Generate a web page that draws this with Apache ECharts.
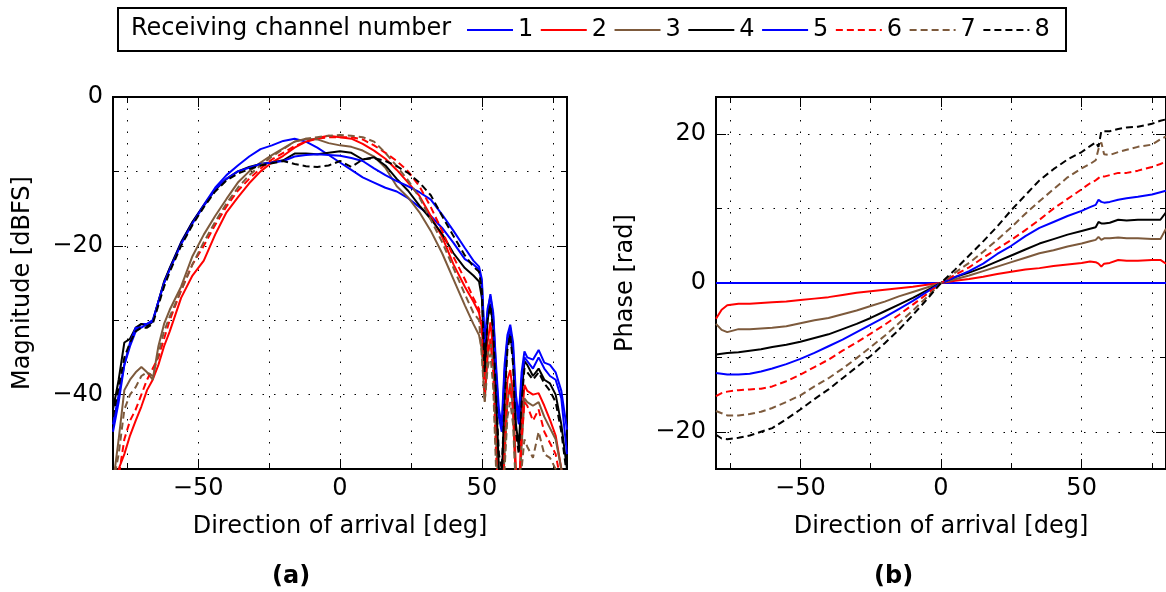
<!DOCTYPE html>
<html lang="en">
<head>
<meta charset="UTF-8">
<title>Receiving channels</title>
<script src="https://cdn.jsdelivr.net/npm/echarts@6/dist/echarts.min.js"></script>
<style>
html, body { margin: 0; padding: 0; background: #fff; }
#main { width: 1166px; height: 592px; }
</style>
</head>
<body>
<div id="main"></div>
<script type="text/javascript">
// direction of arrival (deg) for the magnitude curves
var DOA_MAG = [-80, -78, -76, -74, -72, -70, -68, -66, -64, -62, -60,
  -56, -52, -48, -44, -40, -36, -32, -28, -24, -20, -16, -12, -8, -4, 0,
  4, 8, 12, 16, 20, 24, 28, 32, 36, 40, 44,
  47, 49,
  50, 51, 52, 53, 54, 55, 56, 57, 58, 59, 60, 61, 62, 63, 64, 65, 66,
  68, 70, 72, 74, 76, 78, 80];

// magnitude [dBFS], one list per receiving channel
var MAG_1 = [-44, -40, -36, -33.5, -31.5, -30.5, -30.5, -30, -27.5, -25, -23,
  -19.5, -16.8, -14.5, -12.2, -10.5, -9.2, -8, -7, -6.5, -5.9, -5.6, -6, -6.8, -7.8, -8.8,
  -9.8, -10.8, -11.5, -12.2, -12.7, -13.6, -14.8, -16, -17.6, -19.6, -21.8,
  -22.5, -23.2,
  -25, -34, -29, -26.5, -29, -36, -42, -44, -36, -32, -30.6, -33, -40, -43, -37, -34.2, -35,
  -35.3, -34, -35.7, -36, -37, -39.5, -44.7];
var MAG_2 = [-55, -50, -48, -45.5, -43.5, -41.6, -39.4, -38, -36, -33.5, -31.5,
  -27, -24, -22, -18.5, -15.5, -13.5, -11.6, -10, -8.8, -7.9, -6.8, -6, -5.5, -5.2, -5.4,
  -5.6, -6.3, -7.2, -8.3, -9.8, -11.5, -13.3, -16, -18.8, -22.5, -25.5,
  -27.5, -29,
  -31, -38, -33, -30.3, -34, -44, -52, -55, -46, -38, -36.7, -40, -50, -54, -44, -38.7, -39.5,
  -40, -39.8, -41.5, -43.4, -45.5, -50, -55];
var MAG_3 = [-52, -46, -39.4, -38, -37, -36.3, -37, -38, -33.5, -30.5, -28.6,
  -25.5, -21.4, -18.5, -16, -13.7, -11.5, -10, -8.8, -7.8, -6.9, -6, -5.6, -5.7, -6.2, -6.5,
  -6.7, -7.2, -8, -9.5, -12, -13.5, -15.5, -18, -21, -24.5, -28,
  -30.5, -32,
  -34, -41, -35, -32.6, -36, -46, -54, -56, -48, -41, -38.5, -42, -52, -55, -47, -40.5, -41,
  -41.5, -41, -43, -44.5, -46, -50, -54];
var MAG_4 = [-42, -38, -33, -32.5, -31, -30.5, -30.8, -30.2, -27.5, -24.8, -23,
  -19.6, -16.8, -14.6, -12.5, -11, -10, -9.4, -9, -8.8, -8.5, -7.6, -7.6, -7.7, -7.5, -7.3,
  -7.5, -8.4, -8.1, -9.2, -11, -12.6, -14.6, -16.4, -18.4, -21, -23,
  -24, -24.8,
  -27, -36, -30, -27.8, -31, -40, -50, -52, -40, -33, -31.8, -35, -44, -47, -40, -35.5, -36,
  -37.5, -36.5, -38, -38.5, -40, -44, -50];
var MAG_5 = [-45, -41, -36, -33, -31, -31, -30.5, -30.2, -27.5, -25, -23.2,
  -19.8, -17, -14.6, -12.4, -11, -10, -9.5, -9, -8.8, -8.6, -8, -7.8, -7.7, -7.8, -7.9,
  -8.2, -8.6, -9.6, -10.5, -11.3, -12, -12.8, -13.8, -15.8, -18, -20.3,
  -22, -22.8,
  -24.5, -33, -28.5, -26.8, -29.5, -37, -43, -45, -37, -32.5, -31, -34, -41, -44, -38, -35, -35.5,
  -36.5, -35, -36.5, -37.5, -38, -40.5, -48];
var MAG_6 = [-55, -51, -46, -43.5, -42, -40, -38, -36.5, -35, -32.5, -30,
  -26, -22.5, -20, -17.2, -14.7, -12.6, -11, -9.6, -8.4, -7.5, -6.6, -6, -5.6, -5.4, -5.4,
  -5.4, -5.7, -6.5, -7.5, -8.6, -10, -12, -14.8, -18, -21.5, -24.5,
  -27, -28.5,
  -32, -40, -34.5, -32.5, -37, -48, -55, -56, -48, -41, -39, -42, -52, -55, -46, -41, -41.5,
  -43.5, -42, -45, -46.5, -48, -52, -56];
var MAG_7 = [-52, -48, -42, -40, -39, -37.5, -37, -37.5, -34.5, -31.5, -29.5,
  -26, -22.5, -19.5, -16.8, -14.3, -12.2, -10.5, -9.2, -8, -7, -6, -5.6, -5.4, -5.2, -5.1,
  -5.2, -5.4, -6, -7.5, -9.3, -11.2, -13.5, -16.5, -19.5, -23, -26.5,
  -29, -30,
  -35, -41, -36.5, -34.5, -39, -50, -56, -57, -50, -43, -41, -44, -53, -56, -50, -46, -47,
  -48.5, -45, -48, -48.5, -50, -53, -57];
var MAG_8 = [-43, -39, -35, -33, -31.5, -31, -31, -30.5, -28, -25.5, -23.5,
  -20, -17.2, -14.8, -12.7, -11.2, -10.3, -9.7, -9.2, -8.9, -8.6, -9, -9.3, -9.4, -9.2, -8.6,
  -9.4, -8.4, -8.2, -8.6, -9.3, -10.2, -11.5, -13.2, -16, -18.7, -21.3,
  -22.8, -23.5,
  -26, -37, -30, -28, -31.5, -40, -48, -50, -41, -34, -32, -36, -45, -48, -41, -36.5, -37,
  -38, -37, -38.5, -39.5, -41, -45, -51];

// direction of arrival (deg) for the phase curves
var DOA_PH = [-80, -78, -76, -72, -68, -64, -60, -55, -50, -45, -40, -35, -30, -25, -20, -15, -10, -5, 0,
  5, 10, 15, 20, 25, 30, 35, 40, 45, 50, 53, 55, 56, 57, 58, 60, 63, 66, 70, 75, 78, 80];

// phase [rad], one list per receiving channel
var PH_1 = [0, 0, 0, 0, 0, 0, 0, 0, 0, 0, 0, 0, 0, 0, 0, 0, 0, 0, 0,
  0, 0, 0, 0, 0, 0, 0, 0, 0, 0, 0, 0, 0, 0, 0, 0, 0, 0, 0, 0, 0, 0];
var PH_2 = [-4.8, -3.6, -3.0, -2.8, -2.8, -2.7, -2.6, -2.5, -2.3, -2.1, -1.9, -1.6, -1.3, -1.1, -0.9, -0.7, -0.5, -0.25, 0,
  0.3, 0.55, 0.85, 1.2, 1.5, 1.8, 2.0, 2.3, 2.5, 2.7, 2.9, 2.8, 2.6, 2.2, 2.6, 2.7, 3.1, 3.0, 3.0, 3.1, 3.1, 2.6];
var PH_3 = [-5.5, -6.3, -6.6, -6.2, -6.2, -6.1, -6.0, -5.8, -5.4, -5.0, -4.7, -4.2, -3.7, -3.1, -2.5, -1.8, -1.2, -0.6, 0,
  0.5, 1.0, 1.6, 2.2, 2.8, 3.4, 4.0, 4.4, 4.9, 5.3, 5.6, 5.8, 6.2, 5.8, 6.0, 6.0, 6.1, 6.0, 6.0, 5.9, 5.9, 7.3];
var PH_4 = [-9.6, -9.5, -9.4, -9.3, -9.1, -8.9, -8.6, -8.3, -7.9, -7.4, -6.9, -6.2, -5.5, -4.7, -3.8, -2.9, -2.0, -1.0, 0,
  0.8, 1.4, 2.1, 2.9, 3.7, 4.5, 5.3, 5.9, 6.5, 7.0, 7.3, 7.5, 8.2, 8.0, 8.0, 8.1, 8.5, 8.4, 8.5, 8.5, 8.5, 9.5];
var PH_5 = [-12.1, -12.2, -12.3, -12.3, -12.2, -11.9, -11.5, -10.9, -10.2, -9.4, -8.5, -7.6, -6.6, -5.6, -4.6, -3.5, -2.4, -1.2, 0,
  0.8, 1.6, 2.6, 3.9, 5.0, 6.3, 7.4, 8.2, 9.0, 9.7, 10.2, 10.5, 11.2, 10.9, 10.8, 10.9, 11.2, 11.4, 11.6, 11.9, 12.2, 12.4];
var PH_6 = [-15.2, -14.8, -14.6, -14.4, -14.3, -14.2, -13.9, -13.2, -12.3, -11.3, -10.3, -9.1, -8.0, -6.8, -5.6, -4.3, -2.9, -1.5, 0,
  1.1, 2.1, 3.4, 4.6, 5.8, 7.1, 8.5, 10.0, 11.3, 12.6, 13.4, 13.8, 14.1, 14.4, 14.3, 14.5, 14.8, 14.8, 15.1, 15.6, 16.0, 16.3];
var PH_7 = [-17.2, -17.5, -17.8, -17.8, -17.6, -17.3, -16.8, -16.0, -15.1, -13.9, -12.8, -11.5, -10.1, -8.6, -7.1, -5.4, -3.7, -1.9, 0,
  1.4, 2.7, 4.2, 5.8, 7.5, 9.3, 11.0, 12.6, 14.2, 15.4, 16.0, 16.5, 18.0, 18.9, 17.3, 17.2, 17.6, 17.9, 18.3, 18.6, 19.3, 19.7];
var PH_8 = [-20.4, -20.9, -21.0, -20.8, -20.5, -20.0, -19.5, -18.3, -17.0, -15.6, -14.3, -12.8, -11.3, -9.8, -8.1, -6.3, -4.3, -2.2, 0,
  1.8, 3.7, 5.6, 7.6, 9.8, 11.8, 13.8, 15.3, 16.6, 17.6, 18.4, 18.9, 18.3, 20.4, 20.4, 20.4, 20.7, 20.9, 21.0, 21.4, 21.8, 22.0];

var CHANNELS = ['1', '2', '3', '4', '5', '6', '7', '8'];
var MAG = [MAG_1, MAG_2, MAG_3, MAG_4, MAG_5, MAG_6, MAG_7, MAG_8];
var PH = [PH_1, PH_2, PH_3, PH_4, PH_5, PH_6, PH_7, PH_8];

// styles
var COLORS = ['#0000ff', '#ff0000', '#7d5a3c', '#000000', '#0000ff', '#ff0000', '#7d5a3c', '#000000'];
var DASHED = [false, false, false, false, false, true, true, true];
var FONT = 'DejaVu Sans';
var FS = 24;

var myChart = echarts.init(document.getElementById('main'));

function minus(v) {
    return String(v).replace('-', '\u2212');
}

// one axis: ticks pointing inward, optional labels and dotted grid lines
function axis(dim, grid, pos, min, max, ticks, len, labels, split) {
    return {
        type: 'value',
        gridIndex: grid,
        position: pos,
        min: min,
        max: max,
        axisLine: {show: false, onZero: false},
        axisTick: {show: true, inside: true, length: len, customValues: ticks,
            lineStyle: {color: '#000', width: 1}},
        axisLabel: {show: labels, customValues: ticks, formatter: minus,
            color: '#000', fontSize: FS, fontFamily: FONT, margin: dim === 'x' ? 8 : 10},
        splitLine: {show: split, lineStyle: {color: '#000', width: 1, type: [1.5, 10]}}
    };
}

var X_MAJOR = [-50, 0, 50], X_MINOR = [-75, -25, 25, 75];
var xAxes = [], yAxes = [];
[0, 1].forEach(function (gi) {
    var ymin = gi === 0 ? -50 : -25, ymax = gi === 0 ? 0 : 25;
    var yMajor = gi === 0 ? [-40, -20, 0] : [-20, 0, 20];
    var yMinor = gi === 0 ? [-30, -10] : [-10, 10];
    xAxes.push(axis('x', gi, 'bottom', -80, 80, X_MAJOR, 10, true, true));
    xAxes.push(axis('x', gi, 'bottom', -80, 80, X_MINOR, 6, false, true));
    xAxes.push(axis('x', gi, 'top', -80, 80, X_MAJOR, 10, false, false));
    xAxes.push(axis('x', gi, 'top', -80, 80, X_MINOR, 6, false, false));
    yAxes.push(axis('y', gi, 'left', ymin, ymax, yMajor, 10, true, true));
    yAxes.push(axis('y', gi, 'left', ymin, ymax, yMinor, 6, false, true));
    yAxes.push(axis('y', gi, 'right', ymin, ymax, yMajor, 10, false, false));
    yAxes.push(axis('y', gi, 'right', ymin, ymax, yMinor, 6, false, false));
});

var nameStyle = {color: '#000', fontSize: FS, fontFamily: FONT};
xAxes[0].name = 'Direction of arrival [deg]';
xAxes[4].name = 'Direction of arrival [deg]';
yAxes[0].name = 'Magnitude [dBFS]';
yAxes[4].name = 'Phase [rad]';
[xAxes[0], xAxes[4]].forEach(function (a) {
    a.nameLocation = 'middle'; a.nameGap = 46; a.nameTextStyle = nameStyle;
});
[yAxes[0], yAxes[4]].forEach(function (a) {
    a.nameLocation = 'middle'; a.nameGap = 78; a.nameTextStyle = nameStyle;
});

function pairs(xs, ys) {
    var out = [];
    for (var i = 0; i < xs.length; i++) out.push([xs[i], ys[i]]);
    return out;
}

var series = [];
CHANNELS.forEach(function (name, i) {
    var style = {color: COLORS[i], width: 2, type: DASHED[i] ? [7, 4] : 'solid'};
    series.push({
        name: name, type: 'line', xAxisIndex: 0, yAxisIndex: 0,
        data: pairs(DOA_MAG, MAG[i]),
        symbol: 'none', showSymbol: false, clip: true,
        lineStyle: style, itemStyle: {color: COLORS[i]}
    });
    series.push({
        name: name, type: 'line', xAxisIndex: 4, yAxisIndex: 4,
        data: pairs(DOA_PH, PH[i]),
        symbol: 'none', showSymbol: false, clip: true,
        lineStyle: style, itemStyle: {color: COLORS[i]}
    });
});

var option = {
    animation: false,
    backgroundColor: '#fff',
    grid: [
        {left: 113, top: 97, width: 454, height: 372, show: true,
            borderColor: '#000', borderWidth: 2, backgroundColor: 'transparent'},
        {left: 716, top: 97, width: 452, height: 372, show: true,
            borderColor: '#000', borderWidth: 2, backgroundColor: 'transparent'}
    ],
    legend: {
        data: CHANNELS,
        left: 466, top: 18, padding: 0,
        itemWidth: 46, itemHeight: 14, itemGap: 6.5,
        itemStyle: {opacity: 0},
        textStyle: {color: '#000', fontSize: FS, fontFamily: FONT}
    },
    graphic: [
        {type: 'rect', left: 117, top: 7, z: -1,
            shape: {width: 948, height: 43},
            style: {fill: '#fff', stroke: '#000', lineWidth: 2}},
        {type: 'text', left: 131, top: 17,
            style: {text: 'Receiving channel number', fill: '#000', fontSize: FS, fontFamily: FONT}},
        {type: 'text', left: 272, top: 565,
            style: {text: '(a)', fill: '#000', fontSize: FS, fontWeight: 'bold', fontFamily: FONT}},
        {type: 'text', left: 874, top: 565,
            style: {text: '(b)', fill: '#000', fontSize: FS, fontWeight: 'bold', fontFamily: FONT}}
    ],
    xAxis: xAxes,
    yAxis: yAxes,
    series: series
};
myChart.setOption(option);
</script>
</body>
</html>
